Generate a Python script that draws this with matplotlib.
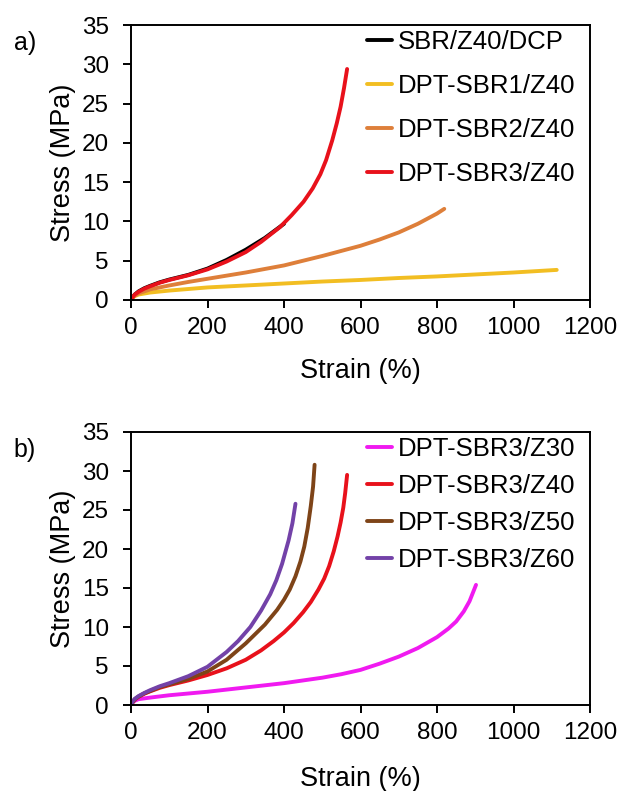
import matplotlib
matplotlib.use("Agg")
import matplotlib.pyplot as plt

plt.rcParams['font.family'] = ['Liberation Sans', 'DejaVu Sans']

# ---- Panel a data (strain %, stress MPa) ----
a_labels = ["SBR/Z40/DCP", "DPT-SBR1/Z40", "DPT-SBR2/Z40", "DPT-SBR3/Z40"]
a_colors = ["#000000", "#F2BE22", "#DE7F3A", "#E8111B"]

a0_x = [0, 5, 10, 20, 35, 50, 75, 100, 150, 200, 250, 300, 350, 400]
a0_y = [0, 0.4, 0.7, 1.1, 1.5, 1.8, 2.25, 2.6, 3.2, 4.0, 5.1, 6.4, 7.9, 9.7]

a1_x = [0, 5, 10, 20, 50, 100, 200, 300, 400, 500, 600, 700, 800, 900, 1000, 1113]
a1_y = [0, 0.3, 0.5, 0.7, 0.95, 1.2, 1.6, 1.85, 2.1, 2.35, 2.55, 2.8, 3.0, 3.25, 3.5, 3.83]

a2_x = [0, 5, 10, 20, 50, 100, 150, 200, 300, 400, 500, 600, 650, 700, 750, 800, 819]
a2_y = [0, 0.35, 0.55, 0.85, 1.35, 1.85, 2.3, 2.7, 3.5, 4.4, 5.6, 6.9, 7.7, 8.6, 9.7, 11.0, 11.6]

a3_x = [0, 5, 10, 20, 35, 50, 75, 100, 150, 200, 250, 300, 340, 390, 420, 451, 475,
        495, 510, 526, 538, 548, 557, 565]
a3_y = [0, 0.4, 0.7, 1.05, 1.45, 1.75, 2.2, 2.55, 3.15, 3.9, 4.9, 6.1, 7.4, 9.3, 10.8, 12.5, 14.2,
        16.0, 17.8, 20.3, 22.5, 24.6, 27.0, 29.4]

a_x = [a0_x, a1_x, a2_x, a3_x]
a_y = [a0_y, a1_y, a2_y, a3_y]

# ---- Panel b data ----
b_labels = ["DPT-SBR3/Z30", "DPT-SBR3/Z40", "DPT-SBR3/Z50", "DPT-SBR3/Z60"]
b_colors = ["#F01AF0", "#E8111B", "#7E4418", "#7342A8"]

b0_x = [0, 5, 10, 20, 50, 100, 200, 300, 400, 500, 550, 600, 650, 700, 750, 800, 830, 850, 870,
        885, 902]
b0_y = [0, 0.35, 0.55, 0.75, 0.95, 1.25, 1.7, 2.25, 2.8, 3.5, 3.95, 4.5, 5.3, 6.2, 7.3, 8.7, 9.8,
        10.7, 12.0, 13.3, 15.4]

b1_x = [0, 5, 10, 20, 35, 50, 75, 100, 150, 200, 250, 300, 340, 373, 400, 425, 450, 470,
        490, 505, 518, 530, 540, 548, 555, 560, 565]
b1_y = [0, 0.4, 0.7, 1.05, 1.45, 1.75, 2.2, 2.55, 3.15, 3.85, 4.7, 5.8, 7.0, 8.2, 9.3, 10.5, 11.9, 13.2,
        14.8, 16.2, 17.8, 19.7, 21.6, 23.4, 25.3, 27.2, 29.5]

b2_x = [0, 5, 10, 20, 35, 50, 75, 100, 150, 200, 250, 300, 350, 382, 400, 415, 430, 443, 453,
        462, 470, 476, 480]
b2_y = [0, 0.45, 0.75, 1.1, 1.5, 1.8, 2.3, 2.65, 3.35, 4.3, 5.8, 7.9, 10.3, 12.2, 13.5, 14.8, 16.5,
        18.4, 20.3, 22.7, 25.5, 28.0, 30.8]

b3_x = [0, 5, 10, 20, 35, 50, 75, 100, 150, 200, 250, 280, 312, 340, 364, 380, 395, 412, 422, 430]
b3_y = [0, 0.5, 0.8, 1.15, 1.55, 1.9, 2.4, 2.8, 3.7, 4.9, 6.8, 8.2, 10.0, 12.1, 14.2, 16.0, 18.1,
        21.1, 23.3, 25.8]

b_x = [b0_x, b1_x, b2_x, b3_x]
b_y = [b0_y, b1_y, b2_y, b3_y]

x_ticks = [0, 200, 400, 600, 800, 1000, 1200]
y_ticks = [0, 5, 10, 15, 20, 25, 30, 35]
x_label = "Strain (%)"
y_label = "Stress (MPa)"

W, H = 624, 791
fig = plt.figure(figsize=(W / 100, H / 100), dpi=100)


def px_rect(l, t, r, b):
    return [l / W, 1 - b / H, (r - l) / W, (b - t) / H]


def style_axes(ax, xlabelpad):
    ax.set_xlim(0, 1200)
    ax.set_ylim(0, 35)
    ax.set_xticks(x_ticks)
    ax.set_yticks(y_ticks)
    for s in ax.spines.values():
        s.set_linewidth(1.4)
        s.set_color("black")
    ax.tick_params(direction="out", length=5.5, width=1.4, labelsize=17.5,
                   colors="black")
    ax.tick_params(axis="x", pad=6.5)
    ax.tick_params(axis="y", pad=10.5)
    ax.set_xlabel(x_label, fontsize=19.5, labelpad=xlabelpad)
    ax.set_ylabel(y_label, fontsize=19.5, labelpad=4)


legend_kw = dict(bbox_transform=fig.transFigure, frameon=False, fontsize=18.5,
                 handlelength=0.97, handletextpad=0.23, borderpad=0, borderaxespad=0,
                 loc="upper left")

axa = fig.add_axes(px_rect(131, 25, 590, 300))
for xs, ys, c, lab in zip(a_x, a_y, a_colors, a_labels):
    axa.plot(xs, ys, color=c, lw=2.8, label=lab, solid_capstyle="round")
style_axes(axa, 14)
axa.legend(bbox_to_anchor=(367 / W, 1 - 30 / H), labelspacing=0.78, **legend_kw)

axb = fig.add_axes(px_rect(131, 432, 590, 705))
for xs, ys, c, lab in zip(b_x, b_y, b_colors, b_labels):
    axb.plot(xs, ys, color=c, lw=2.8, label=lab, solid_capstyle="round")
style_axes(axb, 16)
axb.legend(bbox_to_anchor=(367 / W, 1 - 437 / H), labelspacing=0.51, **legend_kw)

fig.text(25 / W, 1 - 43 / H, "a)", fontsize=18, ha="center", va="center")
fig.text(25 / W, 1 - 450 / H, "b)", fontsize=18, ha="center", va="center")

fig.savefig("out.png", dpi=100)
